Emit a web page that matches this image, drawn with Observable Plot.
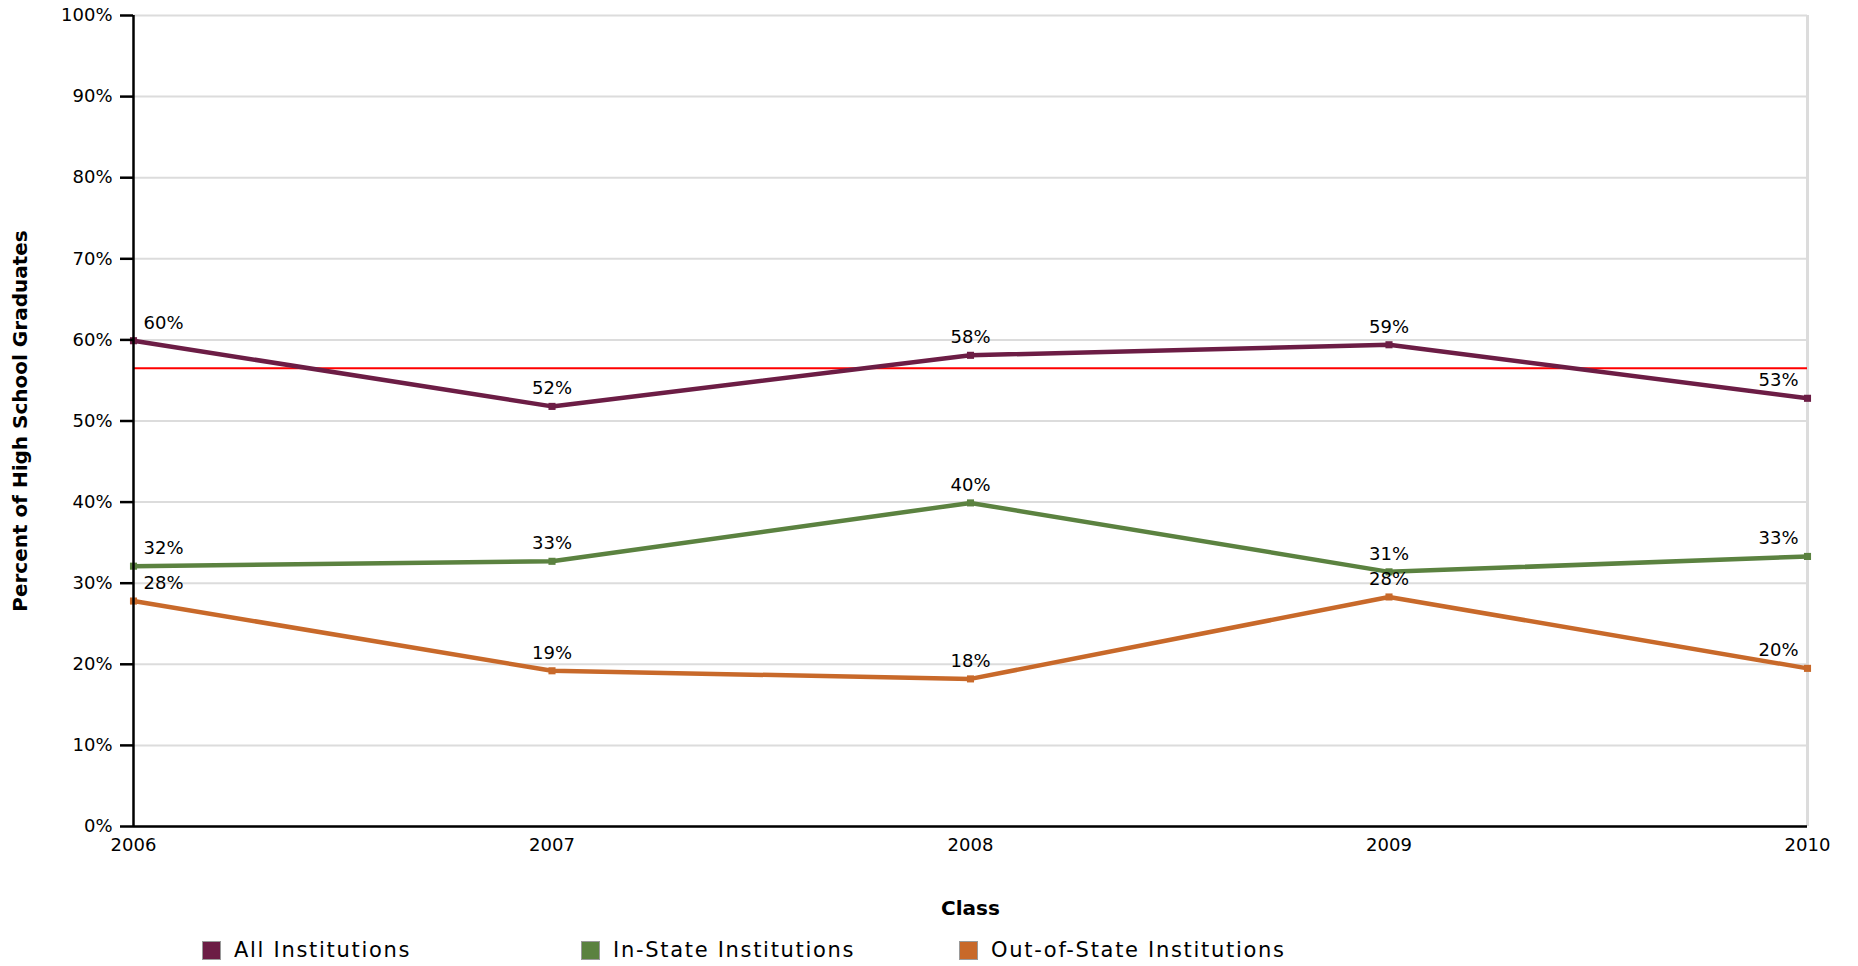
<!DOCTYPE html>
<html>
<head>
<meta charset="utf-8">
<script src="https://cdn.jsdelivr.net/npm/d3@7"></script>
<script src="https://cdn.jsdelivr.net/npm/@observablehq/plot@0.6"></script>
<style>
  body { margin: 0; background: #fff; font-family: "DejaVu Sans", sans-serif; }
  #chart svg { display: block; }
  g[aria-label="x-axis label"] text, g[aria-label="y-axis label"] text { font-weight: bold; font-size: 20px; }
  #legend { position: relative; height: 40px; margin-top: 13px; }
  .item { position: absolute; top: 0; display: flex; align-items: center; font-size: 21px; letter-spacing: 1.7px; color: #000; }
  .sw { width: 17px; height: 17px; border: 1px solid #9a9a9a; margin-right: 13px; }
</style>
</head>
<body>
<div id="chart"></div>
<div id="legend"></div>
<script>
const years = [2006, 2007, 2008, 2009, 2010];
const seriesNames = ["All Institutions", "In-State Institutions", "Out-of-State Institutions"];
const seriesColors = ["#6c1d45", "#5b8240", "#c8692a"];
const allInstitutions = [59.9, 51.8, 58.1, 59.4, 52.8];
const inStateInstitutions = [32.1, 32.7, 39.9, 31.4, 33.3];
const outOfStateInstitutions = [27.8, 19.2, 18.2, 28.3, 19.5];
const benchmark = [56.5];
const yTicks = [0, 10, 20, 30, 40, 50, 60, 70, 80, 90, 100];
const yLabel = "Percent of High School Graduates";
const xLabel = "Class";
const legendLeft = [202, 581, 959];

const seriesValues = [allInstitutions, inStateInstitutions, outOfStateInstitutions];
const data = seriesNames.flatMap((name, i) =>
  years.map((year, j) => ({series: name, year, value: seriesValues[i][j], label: Math.round(seriesValues[i][j]) + "%"})));

const first = years[0], last = years[years.length - 1];
const labelOpts = {x: "year", y: "value", text: "label", dy: -12, lineAnchor: "bottom", fill: "black", fontSize: 18};

const chart = Plot.plot({
  width: 1858,
  height: 925,
  marginTop: 15,
  marginBottom: 99,
  marginLeft: 133,
  marginRight: 51,
  style: {fontFamily: "DejaVu Sans", fontSize: "18px", color: "black", background: "white"},
  x: {type: "linear", domain: [first, last]},
  y: {domain: [0, 100]},
  color: {domain: seriesNames, range: seriesColors},
  marks: [
    Plot.gridY(yTicks, {stroke: "#dcdcdc", strokeOpacity: 1, strokeWidth: 2}),
    Plot.ruleX([last], {stroke: "#dcdcdc", strokeWidth: 3}),
    Plot.ruleY(benchmark, {stroke: "#ff0000", strokeWidth: 2}),
    Plot.line(data, {x: "year", y: "value", z: "series", stroke: "series", strokeWidth: 4.5}),
    Plot.dot(data, {x: "year", y: "value", fill: "series", symbol: "square", r: 4}),
    Plot.text(data.filter(d => d.year === first), {...labelOpts, textAnchor: "start", dx: 10}),
    Plot.text(data.filter(d => d.year !== first && d.year !== last), {...labelOpts, textAnchor: "middle"}),
    Plot.text(data.filter(d => d.year === last), {...labelOpts, textAnchor: "end", dx: -9}),
    Plot.ruleX([first], {stroke: "black", strokeWidth: 2.5}),
    Plot.ruleY([0], {stroke: "black", strokeWidth: 2.5}),
    Plot.axisY({ticks: yTicks, tickFormat: d => d + "%", tickSize: 13, tickPadding: 8, strokeWidth: 2.5,
      label: yLabel, labelAnchor: "center", labelOffset: 121, labelArrow: "none"}),
    Plot.axisX({ticks: years, tickFormat: d => String(d), tickSize: 0, tickPadding: 12,
      label: xLabel, labelAnchor: "center", labelOffset: 88, labelArrow: "none"})
  ]
});
document.getElementById("chart").appendChild(chart);

const legend = document.getElementById("legend");
seriesNames.forEach((name, i) => {
  const item = document.createElement("div");
  item.className = "item";
  item.style.left = legendLeft[i] + "px";
  const sw = document.createElement("span");
  sw.className = "sw";
  sw.style.background = seriesColors[i];
  const t = document.createElement("span");
  t.textContent = name;
  item.appendChild(sw);
  item.appendChild(t);
  legend.appendChild(item);
});
</script>
</body>
</html>
